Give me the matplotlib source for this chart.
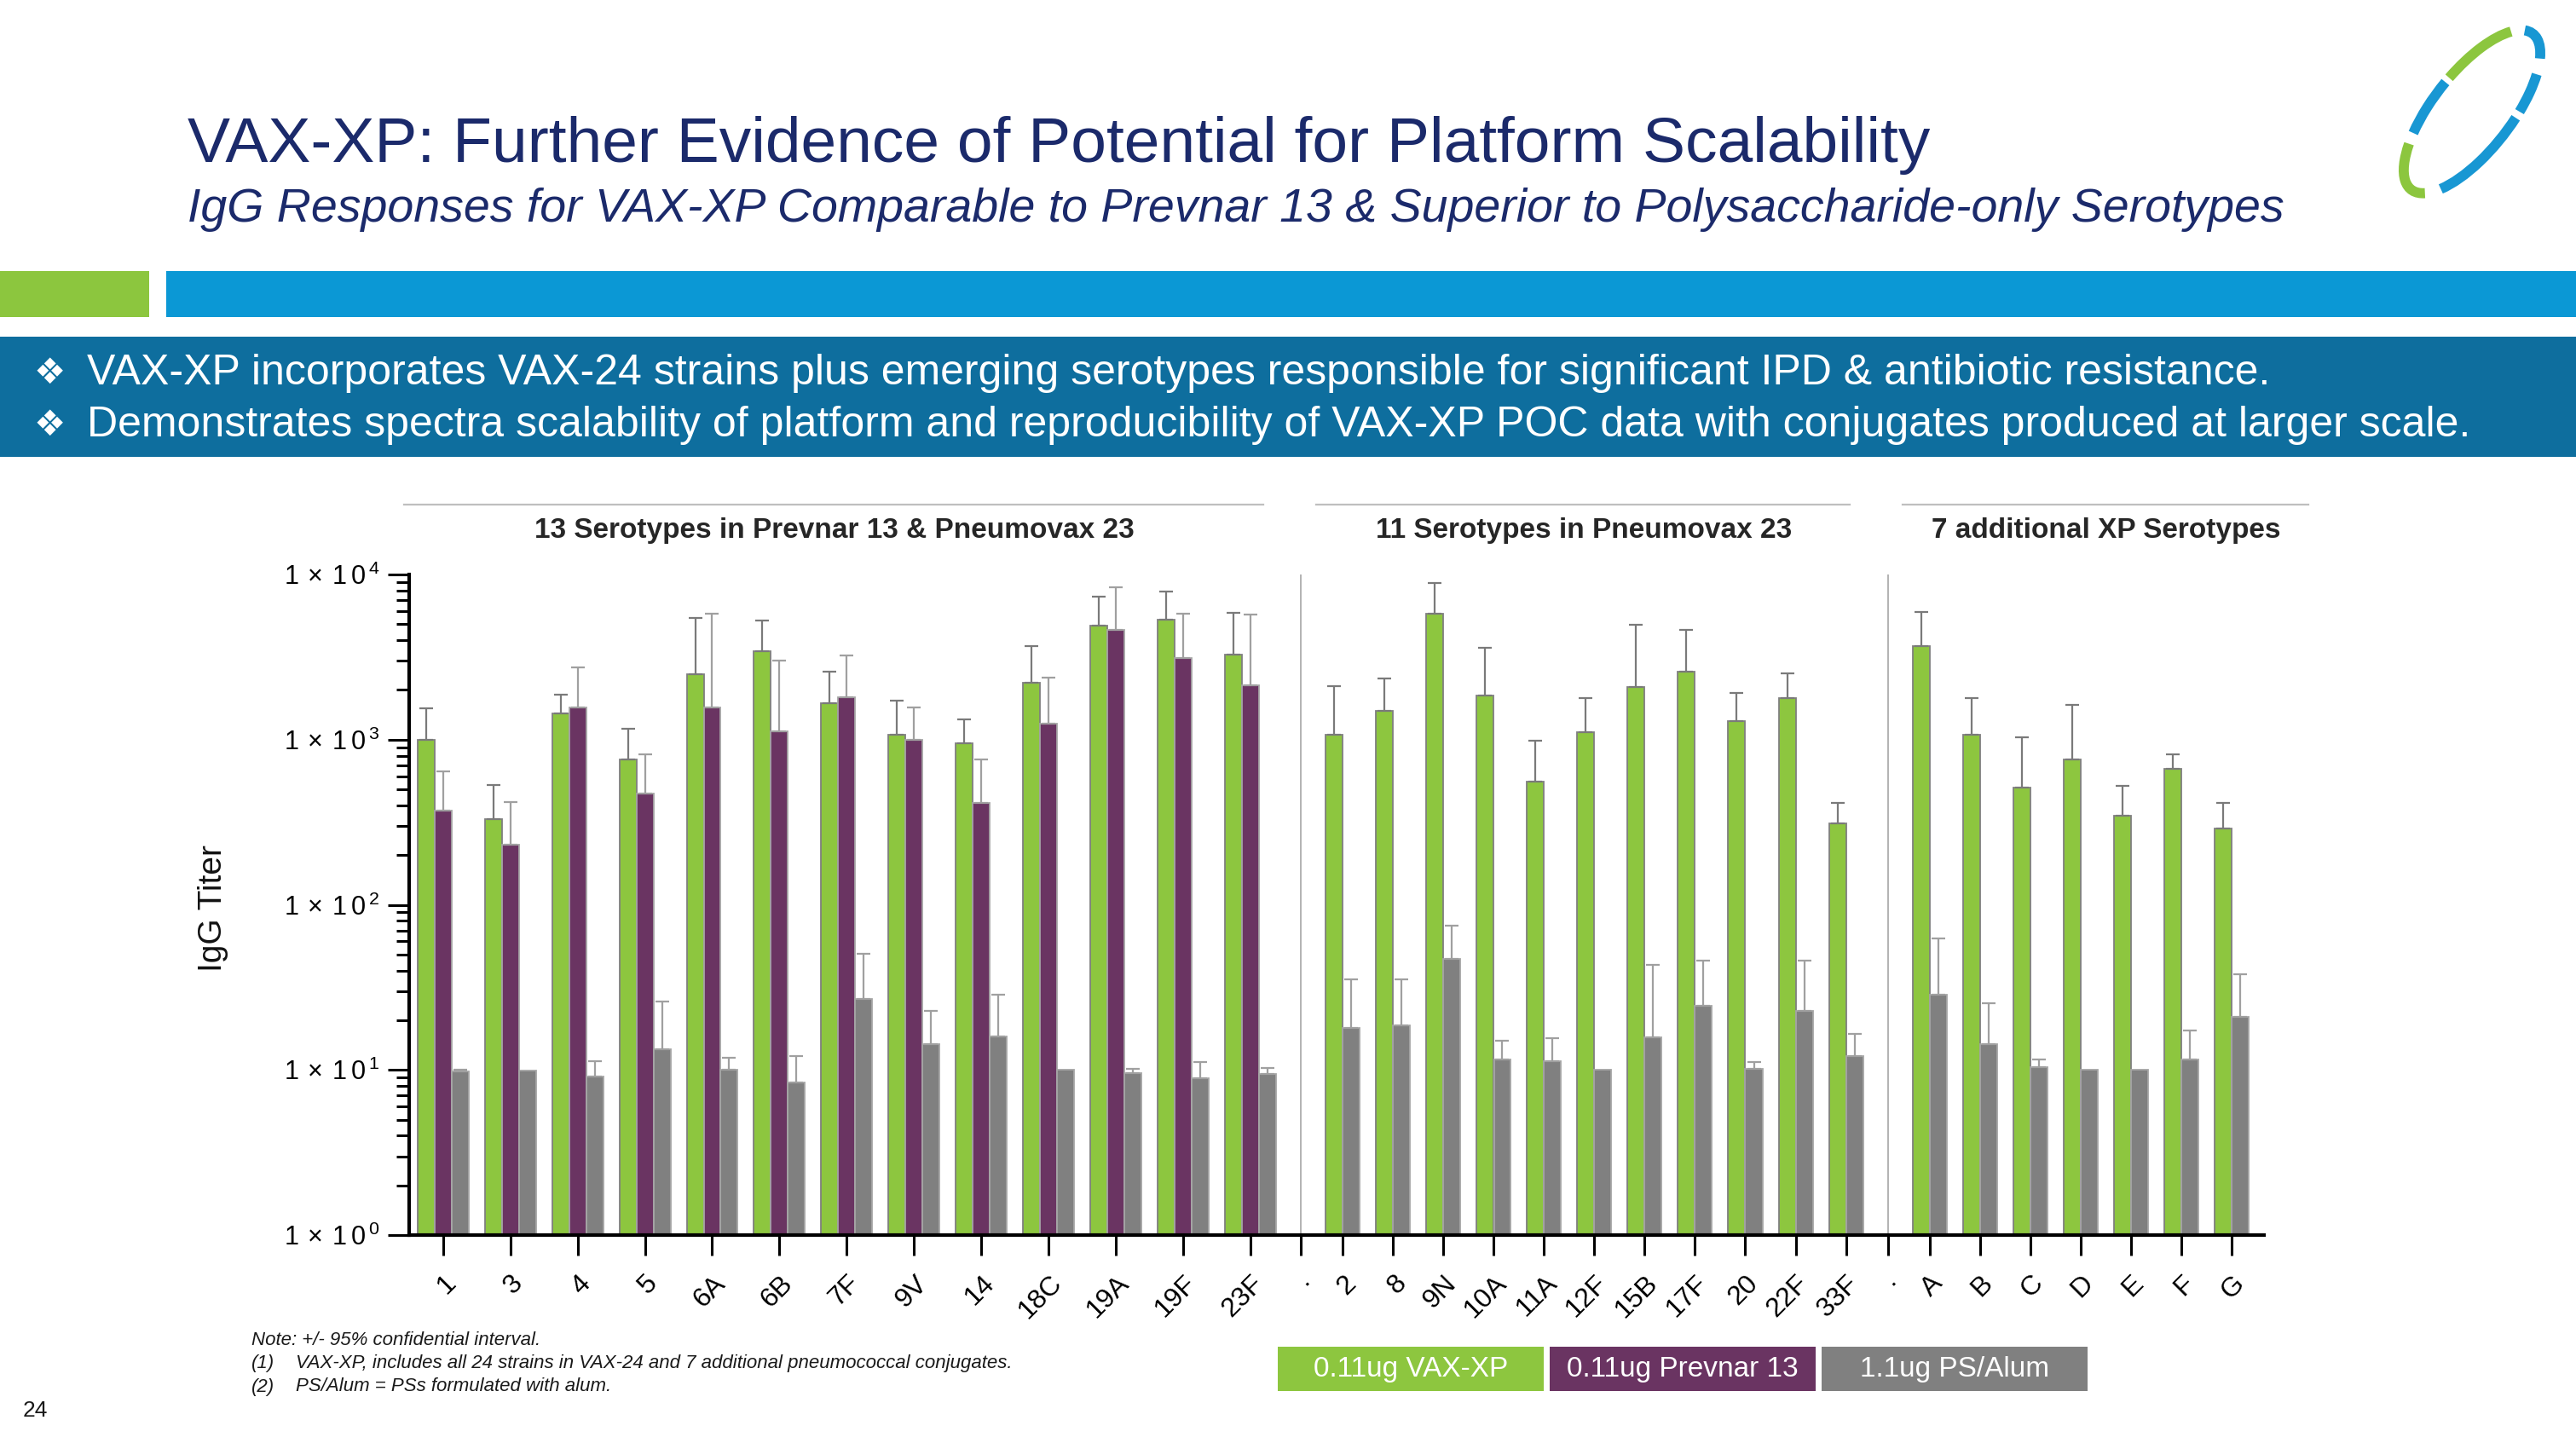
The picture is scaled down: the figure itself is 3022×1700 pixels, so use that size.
import numpy as np
import matplotlib
matplotlib.use("Agg")
import matplotlib.pyplot as plt
from matplotlib.patches import Rectangle, Arc
from matplotlib.ticker import FixedLocator, LogLocator, NullFormatter

plt.rcParams['font.family'] = ['Liberation Sans', 'DejaVu Sans']
plt.rcParams['mathtext.fontset'] = 'custom'
plt.rcParams['mathtext.rm'] = 'Liberation Sans'

W, H = 3022, 1700

# --- data ---
g1_labels = ["1", "3", "4", "5", "6A", "6B", "7F", "9V", "14", "18C", "19A", "19F", "23F"]
g1_vax = [1000, 332, 1448, 760, 2489, 3450, 1668, 1074, 950, 2220, 4910, 5320, 3265]
g1_vax_hi = [1550, 531, 1873, 1157, 5430, 5290, 2575, 1715, 1334, 3690, 7370, 7890, 5890]
g1_pcv = [373, 232, 1570, 469, 1570, 1119, 1811, 1000, 413, 1247, 4615, 3134, 2130]
g1_pcv_hi = [641, 421, 2737, 813, 5770, 3010, 3245, 1570, 760, 2375, 8380, 5770, 5730]
g1_ps = [9.8, 9.9, 9.1, 13.3, 10.0, 8.4, 26.8, 14.4, 16.0, 10.0, 9.6, 8.9, 9.4]
g1_ps_hi = [10.0, 9.9, 11.3, 26.1, 11.9, 12.2, 50.4, 22.8, 28.7, 10.0, 10.2, 11.1, 10.3]

g2_labels = ["2", "8", "9N", "10A", "11A", "12F", "15B", "17F", "20", "22F", "33F"]
g2_vax = [1067, 1487, 5810, 1848, 556, 1104, 2089, 2575, 1298, 1775, 310]
g2_vax_hi = [2115, 2342, 8910, 3590, 990, 1775, 4970, 4645, 1923, 2506, 413]
g2_ps = [17.9, 18.7, 47.1, 11.6, 11.3, 10.0, 15.8, 24.6, 10.2, 22.8, 12.1]
g2_ps_hi = [35.4, 35.4, 74.7, 15.1, 15.5, 10.0, 43.1, 45.8, 11.1, 45.8, 16.6]

g3_labels = ["A", "B", "C", "D", "E", "F", "G"]
g3_vax = [3690, 1074, 512, 760, 346, 663, 290]
g3_vax_hi = [5930, 1775, 1031, 1624, 523, 819, 416]
g3_ps = [28.5, 14.3, 10.4, 10.0, 10.0, 11.6, 20.9]
g3_ps_hi = [62.6, 25.4, 11.5, 10.0, 10.0, 17.4, 37.9]

group_titles = ["13 Serotypes in Prevnar 13 & Pneumovax 23",
                "11 Serotypes in Pneumovax 23",
                "7 additional XP Serotypes"]
series_names = ["0.11ug VAX-XP", "0.11ug Prevnar 13", "1.1ug PS/Alum"]
series_colors = ["#8dc63f", "#6a3462", "#808080"]

NAVY = "#1b2a6b"
NOTE = "#1a1a1a"

fig = plt.figure(figsize=(W / 100, H / 100), dpi=100)
fig.patch.set_facecolor("white")

# background / slide furniture in pixel coords
bg = fig.add_axes([0, 0, 1, 1])
bg.set_xlim(0, W); bg.set_ylim(H, 0); bg.axis("off")

bg.text(220, 190, "VAX-XP: Further Evidence of Potential for Platform Scalability",
        fontsize=54, color=NAVY, va="baseline", ha="left")
bg.text(220, 260, "IgG Responses for VAX-XP Comparable to Prevnar 13 & Superior to Polysaccharide-only Serotypes",
        fontsize=40, color=NAVY, style="italic", va="baseline", ha="left")

bg.add_patch(Rectangle((0, 318), 175, 54, color="#8cc63e", lw=0))
bg.add_patch(Rectangle((195, 318), W - 195, 54, color="#0b98d5", lw=0))
bg.add_patch(Rectangle((0, 395), W, 141, color="#0e6e9e", lw=0))

bullets = ["VAX-XP incorporates VAX-24 strains plus emerging serotypes responsible for significant IPD & antibiotic resistance.",
           "Demonstrates spectra scalability of platform and reproducibility of VAX-XP POC data with conjugates produced at larger scale."]
for yy, line in zip([438, 499], bullets):
    bg.text(40, yy, "\u2756", fontsize=30, color="white", va="center", ha="left",
            family=["DejaVu Sans"])
    bg.text(102, yy, line, fontsize=36, color="white", va="center", ha="left")

# group headers
for (x0, x1, xc), title in zip([(474, 1482, 979), (1544, 2170, 1858), (2232, 2708, 2471)], group_titles):
    bg.plot([x0, x1], [592, 592], color="#bfbfbf", lw=1.6)
    bg.text(xc, 622, title, fontsize=24, fontweight="bold", color="#262626",
            ha="center", va="center")

bg.text(250, 1066, "IgG Titer", fontsize=28, rotation=90, ha="center", va="center", color="#111111")

# notes
bg.text(295, 1573, "Note: +/- 95% confidential interval.", fontsize=16, style="italic",
        va="center", color=NOTE)
bg.text(295, 1600, "(1)", fontsize=16, style="italic", va="center", color=NOTE)
bg.text(347, 1600, "VAX-XP, includes all 24 strains in VAX-24 and 7 additional pneumococcal conjugates.",
        fontsize=16, style="italic", va="center", color=NOTE)
bg.text(295, 1627, "(2)", fontsize=16, style="italic", va="center", color=NOTE)
bg.text(347, 1627, "PS/Alum = PSs formulated with alum.", fontsize=16, style="italic",
        va="center", color=NOTE)
bg.text(27, 1655, "24", fontsize=19, va="center", color=NOTE)

# legend boxes
for i, (name, col) in enumerate(zip(series_names, series_colors)):
    x0 = 1499 + i * 319
    bg.add_patch(Rectangle((x0, 1580), 312, 52, color=col, lw=0))
    bg.text(x0 + 156, 1607, name, fontsize=24, color="white", ha="center", va="center")

# logo
lg = fig.add_axes([2790 / W, 1 - 246 / H, 220 / W, 230 / H])
lg.set_xlim(-110, 110); lg.set_ylim(-115, 115); lg.axis("off")
logo_green = [(12, 72), (155, 188)]
logo_blue = [(80, 148), (196, 300), (308, 338), (346, 365)]
for segs, col in [(logo_green, "#8cc63e"), (logo_blue, "#1897d3")]:
    for t1, t2 in segs:
        lg.add_patch(Arc((0, 0), 232, 92, angle=52, theta1=t1, theta2=t2, color=col, lw=8.5))

# --- chart ---
BW, GAP = 1.0, 0.95
slots = [(lab, 3) for lab in g1_labels] + [("·", 1)] + [(lab, 2) for lab in g2_labels] \
    + [("·", 1)] + [(lab, 2) for lab in g3_labels]
centers = []
pos = 0.0
for lab, n in slots:
    width = n * BW + GAP
    centers.append(pos + width / 2)
    pos += width
total = pos
tick_labels = [lab for lab, n in slots]

c1 = np.array(centers[0:13])
sep1 = centers[13]
c2 = np.array(centers[14:25])
sep2 = centers[25]
c3 = np.array(centers[26:33])

ax = fig.add_axes([480 / W, (H - 1449) / H, 2176 / W, 775 / H])
ax.patch.set_visible(False)
ax.set_yscale("log")
ax.set_ylim(1, 1e4)
ax.set_xlim(0, total + 0.45)

edge = {"#8dc63f": "#7f7f7f", "#6a3462": "#a6a6a6", "#808080": "#a6a6a6"}
err = {"#8dc63f": "#7a7a7a", "#6a3462": "#a0a0a0", "#808080": "#a0a0a0"}


def draw(xs, vals, his, col):
    vals = np.array(vals, float)
    his = np.array(his, float)
    ax.bar(xs, vals - 1, width=BW, bottom=1, color=col, edgecolor=edge[col], linewidth=1.3, zorder=2)
    m = his > vals * 1.005
    ax.errorbar(xs[m], vals[m], yerr=[np.zeros(m.sum()), (his - vals)[m]], fmt="none",
                ecolor=err[col], elinewidth=1.6, capsize=6, capthick=1.6, zorder=3)


draw(c1 - BW, g1_vax, g1_vax_hi, series_colors[0])
draw(c1, g1_pcv, g1_pcv_hi, series_colors[1])
draw(c1 + BW, g1_ps, g1_ps_hi, series_colors[2])
draw(c2 - BW / 2, g2_vax, g2_vax_hi, series_colors[0])
draw(c2 + BW / 2, g2_ps, g2_ps_hi, series_colors[2])
draw(c3 - BW / 2, g3_vax, g3_vax_hi, series_colors[0])
draw(c3 + BW / 2, g3_ps, g3_ps_hi, series_colors[2])

for s in (sep1, sep2):
    ax.axvline(s, color="#a6a6a6", lw=1.2, zorder=1)

for sp in ("top", "right"):
    ax.spines[sp].set_visible(False)
for sp in ("left", "bottom"):
    ax.spines[sp].set_linewidth(3)

ax.yaxis.set_major_locator(FixedLocator([1, 10, 100, 1000, 10000]))
ax.yaxis.set_minor_locator(LogLocator(base=10, subs=np.arange(2, 10)))
ax.yaxis.set_minor_formatter(NullFormatter())
ax.set_yticklabels([r"$\mathregular{1\,\times\,1\,0^{\,%d}}$" % k for k in range(5)])
ax.tick_params(axis="y", which="major", length=18, width=2.2, labelsize=22, pad=7)
ax.tick_params(axis="y", which="minor", length=11, width=2.2)

ax.set_xticks(centers)
ax.set_xticklabels(tick_labels, rotation=45, ha="right", va="top", rotation_mode="anchor")
ax.tick_params(axis="x", length=17, width=2.2, labelsize=23, pad=13)

fig.savefig("out.png", dpi=100)
